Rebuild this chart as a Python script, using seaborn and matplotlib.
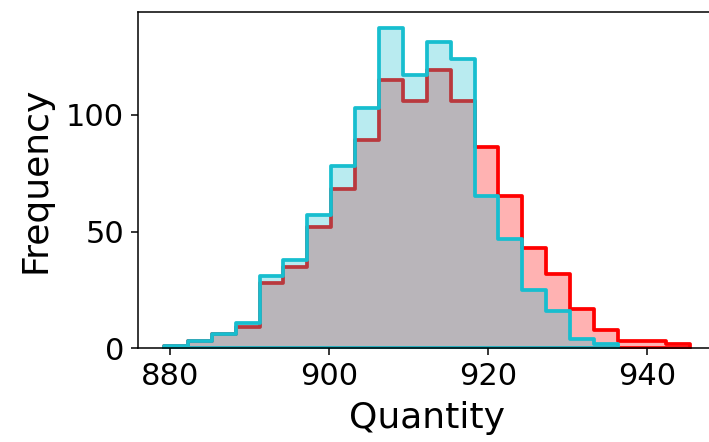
import numpy as np
import pandas as pd
import matplotlib
matplotlib.use("Agg")
import matplotlib.pyplot as plt
import seaborn as sns

# Shared histogram bin edges (22 bins of ~3 units)
edges = np.linspace(879.2, 945.4, 23)
centers = (edges[:-1] + edges[1:]) / 2

# Counts per bin for the two samples
red_counts = [1, 3, 6, 9, 28, 35, 52, 68, 89, 115, 106, 119, 106,
              86, 65, 43, 32, 17, 8, 3, 3, 2]
cyan_counts = [1, 3, 6, 11, 31, 38, 57, 78, 103, 137, 117, 131, 124,
               65, 47, 25, 16, 4, 2]

x_ticks = [880, 900, 920, 940]
y_ticks = [0, 50, 100]

fig = plt.figure(figsize=(7.09, 4.42), dpi=100)
ax = fig.add_axes([0.1942, 0.2120, 0.8155, 0.7602])

series = [
    (red_counts, "#ff0000"),
    (cyan_counts, "#17becf"),
]
for counts, color in series:
    n = len(counts)
    df = pd.DataFrame({"value": centers[:n], "count": counts})
    sns.histplot(data=df, x="value", weights="count",
                 bins=[float(e) for e in edges[:n + 1]],
                 element="step", fill=True, alpha=0.3, color=color,
                 linewidth=2.7, ax=ax)

ax.set_xticks(x_ticks)
ax.set_yticks(y_ticks)
ax.tick_params(axis="both", labelsize=22, length=5, width=1.1, pad=4.8)
for s in ax.spines.values():
    s.set_linewidth(1.1)
ax.set_xlabel("Quantity", fontsize=26, labelpad=7)
ax.set_ylabel("Frequency", fontsize=26, labelpad=10)

fig.savefig("out.png", dpi=100)
